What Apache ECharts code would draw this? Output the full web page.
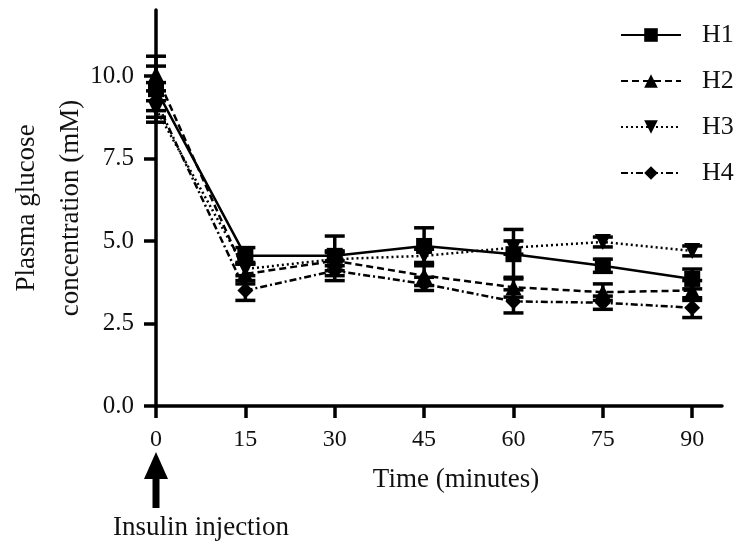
<!DOCTYPE html>
<html>
<head>
    <meta charset="utf-8">
    <script src="https://cdn.jsdelivr.net/npm/echarts@6/dist/echarts.min.js"></script>
</head>
<body style="margin:0;background:#fff;">
    <div id="main" style="width:747px;height:549px;"></div>
    <script type="text/javascript">
        var times = [0, 15, 30, 45, 60, 75, 90];
        var xTicks = [0, 15, 30, 45, 60, 75, 90];
        var yTicks = [0, 2.5, 5, 7.5, 10];

        var h1 = [9.6, 4.55, 4.55, 4.85, 4.6, 4.25, 3.85];
        var h1Err = [1.0, 0.25, 0.6, 0.55, 0.75, 0.2, 0.3];
        var h2 = [10.05, 4.0, 4.4, 3.95, 3.6, 3.45, 3.5];
        var h2Err = [0.25, 0.3, 0.3, 0.3, 0.3, 0.25, 0.3];
        var h3 = [9.0, 4.15, 4.45, 4.55, 4.8, 4.97, 4.7];
        var h3Err = [0.25, 0.2, 0.2, 0.2, 0.2, 0.15, 0.15];
        var h4 = [9.25, 3.5, 4.1, 3.7, 3.17, 3.13, 2.98];
        var h4Err = [0.3, 0.3, 0.3, 0.2, 0.35, 0.2, 0.3];

        var font = 'Liberation Serif';
        var myChart = echarts.init(document.getElementById('main'));

        function pairs(values) {
            return times.map(function (t, i) { return [t, values[i]]; });
        }

        // vertical error bars with caps
        function errorSeries(values, errs) {
            return {
                type: 'custom',
                silent: true,
                z: 1,
                data: times.map(function (t, i) { return [t, values[i] - errs[i], values[i] + errs[i]]; }),
                renderItem: function (params, api) {
                    var lo = api.coord([api.value(0), api.value(1)]);
                    var hi = api.coord([api.value(0), api.value(2)]);
                    var w = 10;
                    var st = { stroke: '#000', lineWidth: 3.5 };
                    return {
                        type: 'group',
                        children: [
                            { type: 'line', shape: { x1: lo[0], y1: lo[1], x2: hi[0], y2: hi[1] }, style: st },
                            { type: 'line', shape: { x1: lo[0] - w, y1: lo[1], x2: lo[0] + w, y2: lo[1] }, style: st },
                            { type: 'line', shape: { x1: hi[0] - w, y1: hi[1], x2: hi[0] + w, y2: hi[1] }, style: st }
                        ]
                    };
                }
            };
        }

        function lineSeries(name, values, symbol, dash, rotate) {
            return {
                name: name,
                type: 'line',
                data: pairs(values),
                symbol: symbol,
                symbolSize: 16,
                symbolRotate: rotate || 0,
                z: 3,
                itemStyle: { color: '#000', opacity: 1 },
                lineStyle: { color: '#000', width: 2.5, type: dash }
            };
        }

        var option = {
            animation: false,
            backgroundColor: '#fff',
            grid: { left: 156, right: 25, top: 10, bottom: 143, containLabel: false, outerBoundsMode: 'none' },
            legend: {
                data: ['H1', 'H2', 'H3', 'H4'],
                orient: 'vertical',
                left: 615,
                top: 17,
                itemWidth: 60,
                itemHeight: 17,
                itemGap: 20,
                textStyle: { fontFamily: font, fontSize: 26, color: '#111', padding: [0, 0, 0, 16] }
            },
            xAxis: {
                type: 'value',
                min: 0,
                max: 95,
                interval: 15,
                name: 'Time (minutes)',
                nameLocation: 'middle',
                nameGap: 60,
                nameMoveOverlap: false,
                nameTextStyle: { fontFamily: font, fontSize: 27, color: '#111', padding: [0, 0, 0, 34] },
                splitLine: { show: false },
                axisLine: { lineStyle: { color: '#000', width: 3.5 } },
                axisTick: { show: true, length: 12, lineStyle: { color: '#000', width: 3.5 }, customValues: xTicks },
                axisLabel: { fontFamily: font, fontSize: 24, color: '#111', margin: 22, customValues: xTicks }
            },
            yAxis: {
                type: 'value',
                min: 0,
                max: 12,
                interval: 2.5,
                name: 'Plasma glucose\nconcentration (mM)',
                nameLocation: 'middle',
                nameGap: 63,
                nameMoveOverlap: false,
                nameTextStyle: { fontFamily: font, fontSize: 27, color: '#111', lineHeight: 44 },
                splitLine: { show: false },
                axisLine: { lineStyle: { color: '#000', width: 3.5 } },
                axisTick: { show: true, length: 12, lineStyle: { color: '#000', width: 3.5 }, customValues: yTicks },
                axisLabel: {
                    fontFamily: font, fontSize: 25, color: '#111', margin: 22, customValues: yTicks,
                    formatter: function (v) { return v.toFixed(1); }
                }
            },
            series: [
                errorSeries(h1, h1Err),
                errorSeries(h2, h2Err),
                errorSeries(h3, h3Err),
                errorSeries(h4, h4Err),
                lineSeries('H1', h1, 'rect', 'solid'),
                lineSeries('H2', h2, 'triangle', [7, 4]),
                lineSeries('H3', h3, 'triangle', [2, 3], 180),
                lineSeries('H4', h4, 'diamond', [7, 3, 2, 3])
            ]
        };

        myChart.setOption(option);

        // arrow under x = 0 and the note
        var p = myChart.convertToPixel({ gridIndex: 0 }, [0, 0]);
        myChart.setOption({
            graphic: [
                { type: 'polygon', shape: { points: [[p[0], p[1] + 46], [p[0] - 12, p[1] + 73], [p[0] + 12, p[1] + 73]] }, style: { fill: '#000' } },
                { type: 'rect', shape: { x: p[0] - 3.5, y: p[1] + 68, width: 7, height: 34 }, style: { fill: '#000' } },
                { type: 'text', x: p[0] + 45, y: p[1] + 122, style: { text: 'Insulin injection', fontFamily: font, fontSize: 27, fill: '#111', align: 'center', verticalAlign: 'middle' } }
            ]
        });
    </script>
</body>
</html>
